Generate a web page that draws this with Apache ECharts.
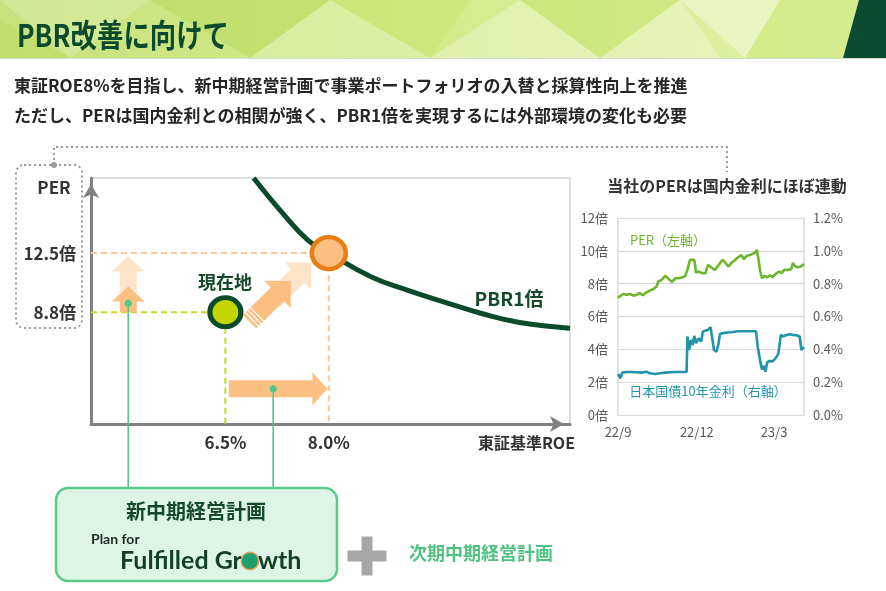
<!DOCTYPE html>
<html>
<head>
<meta charset="utf-8">
<title>PBR改善に向けて</title>
<script src="https://cdn.jsdelivr.net/npm/echarts@6/dist/echarts.min.js"></script>
<style>
html, body { margin: 0; padding: 0; background: #fff; }
#main { width: 886px; height: 591px; }
</style>
</head>
<body>
<div id="main"></div>
<script>
var FONT = '"Noto Sans CJK JP", "Noto Sans", sans-serif';

// ---- 左図：東証基準ROE × PER ----
var roeTicks = [6.5, 8.0];
var perTicks = [8.8, 12.5];
var nowPoint = [6.5, 8.8];      // 現在地
var goalPoint = [8.0, 12.5];    // PBR1倍
var pbr1Roe = [6.91, 7.33, 7.70, 8.0, 8.62, 9.16, 9.70, 10.23, 10.77, 11.5];
var pbr1Per = [17.2, 15.0, 13.3, 12.5, 11.0, 10.15, 9.4, 8.7, 8.15, 7.8];

// ---- 右図：PER と 日本国債10年金利 ----
var dayTicks = [0, 92, 182];
var dayTickLabels = ['22/9', '22/12', '23/3'];
var perDays = [0, 2, 6, 10, 14, 18, 22, 25, 29, 33, 37, 41, 45, 47, 51, 55, 59, 63, 67, 71,
  75, 78, 81, 84, 86, 89, 91, 94, 98, 102, 105, 107, 110, 113, 116, 119, 122, 125, 129, 132,
  136, 140, 144, 147, 150, 154, 157, 160, 162, 164, 166, 168, 171, 174, 177, 180, 184, 188, 191, 194,
  198, 202, 204, 207, 210, 213, 217];
var perValues = [7.15, 7.25, 7.37, 7.33, 7.37, 7.27, 7.33, 7.42, 7.30, 7.46, 7.58, 7.66, 7.83, 8.13, 8.23, 8.48, 8.29, 8.11, 8.33, 8.33,
  8.39, 8.43, 8.84, 9.45, 9.49, 9.45, 8.68, 8.74, 8.64, 8.64, 9.15, 9.25, 8.94, 8.84, 9.04, 9.25, 9.45, 9.29, 9.04, 9.25,
  9.41, 9.61, 9.74, 9.49, 9.69, 9.74, 9.82, 9.90, 10.06, 9.45, 8.74, 8.33, 8.48, 8.39, 8.52, 8.39, 8.60, 8.74, 8.64, 8.84,
  8.84, 8.88, 9.25, 9.04, 9.00, 9.04, 9.19];
var jgbDays = [0, 3, 5, 10, 16, 22, 27, 33, 37, 43, 49, 55, 61, 69, 76, 80, 81, 83, 85, 87,
  89, 91, 94, 97, 99, 102, 105, 108, 110, 112, 115, 117, 119, 122, 126, 132, 140, 148, 156, 161,
  163, 166, 168, 170, 172, 174, 177, 180, 184, 187, 190, 193, 196, 200, 204, 208, 212, 214, 217];
var jgbValues = [0.250, 0.224, 0.258, 0.262, 0.262, 0.260, 0.258, 0.264, 0.254, 0.250, 0.254, 0.258, 0.260, 0.262, 0.262, 0.262, 0.478, 0.396, 0.457, 0.427,
  0.482, 0.437, 0.467, 0.447, 0.508, 0.514, 0.518, 0.535, 0.529, 0.396, 0.386, 0.427, 0.494, 0.498, 0.502, 0.504, 0.510, 0.510, 0.510, 0.510,
  0.417, 0.325, 0.278, 0.299, 0.264, 0.319, 0.331, 0.325, 0.346, 0.372, 0.488, 0.478, 0.486, 0.492, 0.488, 0.486, 0.478, 0.396, 0.413];

// 矢印（左図のデータ座標で向きを指定）
var arrowMoves = [
  { from: [5.09, 10.0], to: [5.09, 12.3], pale: true },
  { from: [5.09, 8.8], to: [5.09, 10.4], pale: false },
  { from: [7.2, 9.6], to: [7.75, 11.9], pale: true, wide: true },
  { from: [6.85, 8.2], to: [7.45, 10.75], pale: false, wide: true },
  { from: [6.55, 4.0], to: [7.98, 4.0], pale: false }
];

var xMin = 4.55, xMax = 11.5, yMin = 1.8, yMax = 17.2;

function zip(a, b) { return a.map(function (v, i) { return [v, b[i]]; }); }

var myChart = echarts.init(document.getElementById('main'));

var option = {
  animation: false,
  textStyle: { fontFamily: FONT },
  grid: [
    { left: 91, top: 178, right: 316, bottom: 167, show: true, borderColor: '#d4d4d4', borderWidth: 1.5 },
    { left: 618, top: 218, right: 82, bottom: 176 }
  ],
  xAxis: [
    {
      type: 'value', gridIndex: 0, min: xMin, max: xMax,
      axisLine: { show: true, onZero: false, lineStyle: { color: '#808080', width: 3 },
        symbol: ['none', 'arrow'], symbolSize: [12, 14], symbolOffset: [0, -6] },
      axisTick: { show: false }, splitLine: { show: false },
      axisLabel: { customValues: roeTicks, margin: 10, fontSize: 17, fontWeight: 'bold', color: '#333',
        formatter: function (v) { return v.toFixed(1) + '%'; } }
    },
    {
      type: 'value', gridIndex: 1, min: 0, max: 217,
      axisLine: { show: false }, axisTick: { show: false }, splitLine: { show: false },
      axisLabel: { customValues: dayTicks, margin: 11, fontSize: 13, color: '#595959',
        formatter: function (v) { return dayTickLabels[dayTicks.indexOf(v)]; } }
    }
  ],
  yAxis: [
    {
      type: 'value', gridIndex: 0, min: yMin, max: yMax,
      axisLine: { show: true, onZero: false, lineStyle: { color: '#808080', width: 3 },
        symbol: ['none', 'arrow'], symbolSize: [12, 14], symbolOffset: [0, -6] },
      axisTick: { show: false }, splitLine: { show: false },
      axisLabel: { customValues: perTicks, margin: 15, fontSize: 17, fontWeight: 'bold', color: '#333',
        formatter: function (v) { return v + '倍'; } }
    },
    {
      type: 'value', gridIndex: 1, min: 0, max: 12, interval: 2,
      axisLine: { show: true, lineStyle: { color: '#d9d9d9', width: 1.5 } },
      axisTick: { show: false },
      splitLine: { show: true, lineStyle: { color: '#d9d9d9', width: 1.2 } },
      axisLabel: { fontSize: 13, color: '#595959', margin: 10, formatter: '{value}倍' }
    },
    {
      type: 'value', gridIndex: 1, min: 0, max: 1.2, interval: 0.2, position: 'right',
      axisLine: { show: true, lineStyle: { color: '#d9d9d9', width: 1.5 } },
      axisTick: { show: false }, splitLine: { show: false },
      axisLabel: { fontSize: 13, color: '#595959', margin: 9,
        formatter: function (v) { return v.toFixed(1) + '%'; } }
    }
  ],
  series: [
    {
      type: 'line', xAxisIndex: 0, yAxisIndex: 0, symbol: 'none', z: 1, silent: true,
      data: [[xMin, nowPoint[1]], nowPoint, [nowPoint[0], yMin]],
      lineStyle: { color: '#c6d823', width: 2, type: [6, 4] }
    },
    {
      type: 'line', xAxisIndex: 0, yAxisIndex: 0, symbol: 'none', z: 1, silent: true,
      data: [[xMin, goalPoint[1]], goalPoint, [goalPoint[0], yMin]],
      lineStyle: { color: '#fcc896', width: 2, type: [6, 4] }
    },
    {
      type: 'custom', xAxisIndex: 0, yAxisIndex: 0, z: 2, silent: true,
      data: arrowMoves.map(function (m) { return [m.from[0], m.from[1], m.to[0], m.to[1]]; }),
      renderItem: function (params, api) {
        var m = arrowMoves[params.dataIndex];
        var p1 = api.coord([api.value(0), api.value(1)]);
        var p2 = api.coord([api.value(2), api.value(3)]);
        var w = m.wide ? 19 : 17, hw = m.wide ? 38 : 33, hl = m.wide ? 19 : 15;
        var dx = p2[0] - p1[0], dy = p2[1] - p1[1];
        var len = Math.sqrt(dx * dx + dy * dy);
        var ux = dx / len, uy = dy / len, nx = -uy, ny = ux;
        var bx = p2[0] - ux * hl, by = p2[1] - uy * hl;
        var pts = [
          [p1[0] + nx * w / 2, p1[1] + ny * w / 2],
          [bx + nx * w / 2, by + ny * w / 2],
          [bx + nx * hw / 2, by + ny * hw / 2],
          p2,
          [bx - nx * hw / 2, by - ny * hw / 2],
          [bx - nx * w / 2, by - ny * w / 2],
          [p1[0] - nx * w / 2, p1[1] - ny * w / 2]
        ];
        var children = [{ type: 'polygon', shape: { points: pts },
          style: { fill: m.pale ? '#fde3c8' : '#fbbf82' } }];
        if (m.wide && !m.pale) {
          for (var k = 1; k <= 3; k++) {
            var sx = p1[0] + ux * k * 3.5, sy = p1[1] + uy * k * 3.5;
            children.push({ type: 'line', shape: { x1: sx + nx * w / 2, y1: sy + ny * w / 2, x2: sx - nx * w / 2, y2: sy - ny * w / 2 },
              style: { stroke: '#fff', lineWidth: 1.2 } });
          }
        }
        return { type: 'group', children: children };
      }
    },
    {
      type: 'line', xAxisIndex: 0, yAxisIndex: 0, symbol: 'none', smooth: 0.45, z: 3, silent: true,
      data: zip(pbr1Roe, pbr1Per),
      lineStyle: { color: '#0c4a2c', width: 5 }
    },
    {
      type: 'scatter', xAxisIndex: 0, yAxisIndex: 0, z: 5, silent: true,
      data: [nowPoint], symbolSize: [31, 29],
      itemStyle: { color: '#c4d600', borderColor: '#0c4a2c', borderWidth: 5, opacity: 1 }
    },
    {
      type: 'scatter', xAxisIndex: 0, yAxisIndex: 0, z: 5, silent: true,
      data: [goalPoint], symbolSize: [34, 32],
      itemStyle: { color: '#fcbf80', borderColor: '#e67e14', borderWidth: 4.5, opacity: 1 }
    },
    {
      name: 'PER（左軸）', type: 'line', xAxisIndex: 1, yAxisIndex: 1, symbol: 'none', silent: true,
      data: zip(perDays, perValues),
      lineStyle: { color: '#6cb52d', width: 2.6 }
    },
    {
      name: '日本国債10年金利（右軸）', type: 'line', xAxisIndex: 1, yAxisIndex: 2, symbol: 'none', silent: true,
      data: zip(jgbDays, jgbValues),
      lineStyle: { color: '#2193ab', width: 2.6 }
    }
  ]
};

myChart.setOption(option);

// 矢印から下の枠への接続線
function arrowAnchor(i, t) {
  var m = arrowMoves[i];
  var p = [m.from[0] + (m.to[0] - m.from[0]) * t, m.from[1] + (m.to[1] - m.from[1]) * t];
  return myChart.convertToPixel({ gridIndex: 0 }, p);
}
var a1 = arrowAnchor(1, 0.35);
var a2 = arrowAnchor(4, 0.45);

function txt(x, y, text, size, color, align, extra) {
  var s = { text: text, x: x, y: y, fill: color, font: 'bold ' + size + 'px ' + FONT,
    textAlign: align || 'center', textVerticalAlign: 'middle' };
  if (extra) for (var k in extra) s[k] = extra[k];
  return { type: 'text', z: 20, style: s };
}

var headerTris = [
  [[[0, 0], [150, 0], [70, 58]], 'rgba(255,255,255,0.18)'],
  [[[150, 0], [330, 0], [250, 58]], 'rgba(150,200,40,0.22)'],
  [[[250, 58], [330, 0], [430, 58]], 'rgba(255,255,255,0.22)'],
  [[[330, 0], [470, 0], [430, 58]], 'rgba(190,225,80,0.25)'],
  [[[430, 58], [520, 0], [600, 58]], 'rgba(255,255,255,0.28)'],
  [[[520, 0], [680, 0], [600, 58]], 'rgba(170,215,50,0.22)'],
  [[[600, 58], [680, 0], [720, 58]], 'rgba(255,255,255,0.25)'],
  [[[680, 0], [780, 0], [745, 58]], 'rgba(255,255,255,0.32)'],
  [[[780, 0], [860, 0], [845, 58], [745, 58]], 'rgba(195,228,100,0.4)'],
  [[[0, 58], [70, 58], [0, 20]], 'rgba(170,210,60,0.25)']
];

var graphics = [
  { type: 'rect', z: 0, shape: { x: 0, y: 0, width: 886, height: 58 },
    style: { fill: new echarts.graphic.LinearGradient(0, 0, 1, 0, [
      { offset: 0, color: '#c6e27c' }, { offset: 0.5, color: '#d4eb8c' }, { offset: 1, color: '#e2f2ac' }]) } }
];
headerTris.forEach(function (t) {
  graphics.push({ type: 'polygon', z: 1, shape: { points: t[0] }, style: { fill: t[1] } });
});
graphics.push(
  { type: 'polygon', z: 2, shape: { points: [[859, 0], [886, 0], [886, 58], [843, 58]] }, style: { fill: '#0a4b31' } },
  { type: 'line', z: 2, shape: { x1: 0, y1: 58.5, x2: 886, y2: 58.5 }, style: { stroke: '#d3dbc4', lineWidth: 1 } },
  { type: 'text', z: 20, x: 17, y: 35, scaleX: 0.88, scaleY: 1.05,
    style: { text: 'PBR改善に向けて', x: 0, y: 0, fill: '#0d4a2d', font: 'bold 30px ' + FONT,
      textAlign: 'left', textVerticalAlign: 'middle' } },
  txt(14, 86, '東証ROE8%を目指し、新中期経営計画で事業ポートフォリオの入替と採算性向上を推進', 17, '#262626', 'left'),
  txt(14, 116, 'ただし、PERは国内金利との相関が強く、PBR1倍を実現するには外部環境の変化も必要', 17, '#262626', 'left'),

  // 点線の枠と引き出し線
  { type: 'rect', z: 3, shape: { x: 16, y: 165, width: 66, height: 163, r: 8 },
    style: { fill: 'none', stroke: '#9a9a9a', lineWidth: 2, lineDash: [2, 3] } },
  { type: 'polyline', z: 3, shape: { points: [[54, 165], [54, 147], [727, 147], [727, 172]] },
    style: { fill: 'none', stroke: '#9a9a9a', lineWidth: 2, lineDash: [2, 3] } },
  { type: 'circle', z: 4, shape: { cx: 54, cy: 165, r: 3 }, style: { fill: '#9a9a9a' } },
  txt(54, 188, 'PER', 17, '#333'),

  txt(225, 282, '現在地', 18, '#14492c'),
  txt(509, 299, 'PBR1倍', 19, '#14492c'),
  txt(575, 443, '東証基準ROE', 16, '#333', 'right'),

  txt(727, 186, '当社のPERは国内金利にほぼ連動', 16, '#333'),
  txt(668, 240, 'PER（左軸）', 13, '#6cb52d', 'center', { font: '13px ' + FONT }),
  txt(708, 391, '日本国債10年金利（右軸）', 13, '#2596ad', 'center', { font: '13px ' + FONT }),

  // 接続線
  { type: 'line', z: 10, shape: { x1: a1[0], y1: a1[1], x2: a1[0], y2: 488 }, style: { stroke: '#55c68b', lineWidth: 1.6 } },
  { type: 'line', z: 10, shape: { x1: a2[0], y1: a2[1], x2: a2[0], y2: 488 }, style: { stroke: '#55c68b', lineWidth: 1.6 } },
  { type: 'circle', z: 11, shape: { cx: a1[0], cy: a1[1], r: 3.5 }, style: { fill: '#55c68b' } },
  { type: 'circle', z: 11, shape: { cx: a2[0], cy: a2[1], r: 3.5 }, style: { fill: '#55c68b' } },

  // 新中期経営計画の枠
  { type: 'rect', z: 12, shape: { x: 56, y: 488, width: 281, height: 93, r: 12 },
    style: { fill: '#ddf5e6', stroke: '#5cc98a', lineWidth: 2.5 } },
  txt(196, 511, '新中期経営計画', 20, '#14492c'),
  { type: 'text', z: 20, style: { text: 'Plan for', x: 91, y: 539, fill: '#1e2a22',
    font: 'bold 14px Lato, "Noto Sans", sans-serif', textAlign: 'left', textVerticalAlign: 'middle' } },
  { type: 'text', z: 20, style: {
    text: '{a|Fulfilled Gr}{o|o}{a|wth}', x: 120, y: 561, textAlign: 'left', textVerticalAlign: 'middle',
    rich: {
      a: { fontFamily: 'Lato, "Noto Sans", sans-serif', fontSize: 25, fontWeight: 'bold', fill: '#143f2b' },
      o: { fontFamily: 'Lato, "Noto Sans", sans-serif', fontSize: 12, fill: '#1f9e6e', width: 16, height: 16,
        backgroundColor: '#1f9e6e', borderColor: '#e7a455', borderWidth: 1.5, borderRadius: 8, align: 'center' }
    } } },

  // ＋ と 次期中期経営計画
  { type: 'rect', z: 12, shape: { x: 347.5, y: 550.5, width: 39, height: 11 }, style: { fill: '#a6a6a6' } },
  { type: 'rect', z: 12, shape: { x: 361.5, y: 536.5, width: 11, height: 39 }, style: { fill: '#a6a6a6' } },
  txt(481, 553, '次期中期経営計画', 18, '#4cc27e')
);

myChart.setOption({ graphic: { elements: graphics } });
</script>
</body>
</html>
